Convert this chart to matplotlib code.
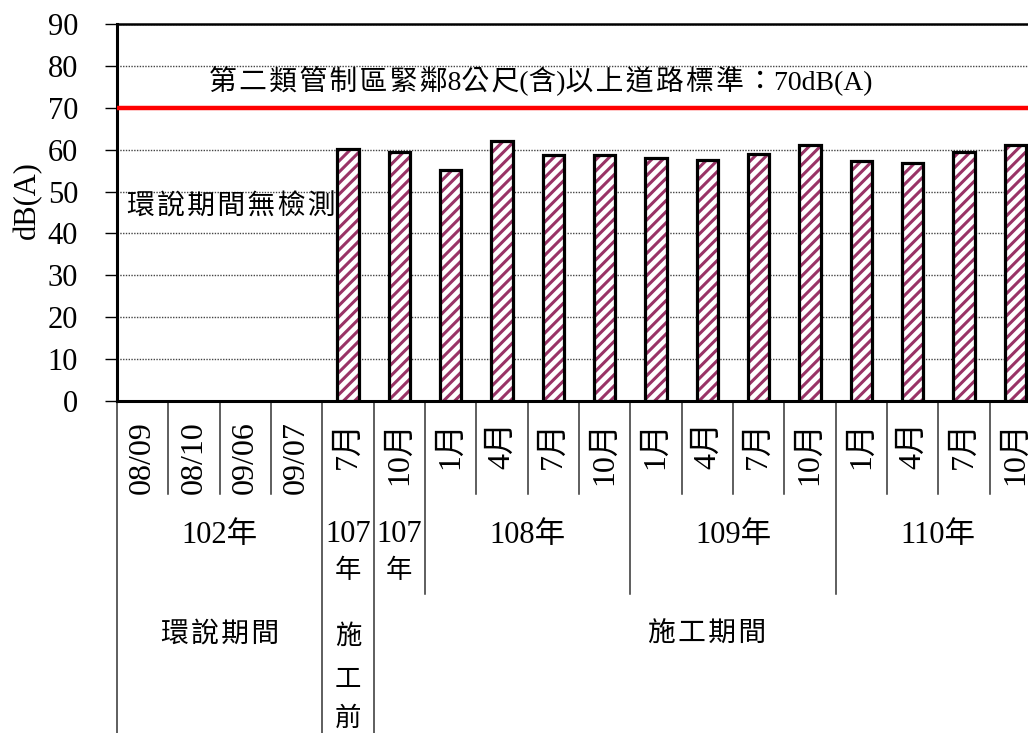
import numpy as np
import matplotlib
matplotlib.use("Agg")
import matplotlib.pyplot as plt
import matplotlib.transforms as mtransforms

plt.rcParams['font.family'] = ['Liberation Serif', 'Noto Sans CJK TC', 'DejaVu Sans']
plt.rcParams['hatch.linewidth'] = 2.2

# one column per survey
MONTHS = ["08/09", "08/10", "09/06", "09/07", "7月", "10月",
          "1月", "4月", "7月", "10月",
          "1月", "4月", "7月", "10月",
          "1月", "4月", "7月", "10月"]
VALUES = [np.nan, np.nan, np.nan, np.nan, 60.1, 59.4,
          55.1, 62.1, 58.8, 58.8,
          58.0, 57.6, 59.0, 61.2,
          57.4, 56.8, 59.5, 61.1]

# year row: (label, first column, last column)
YEARS = [("102年", 0, 3), ("107\n年", 4, 4), ("107\n年", 5, 5),
         ("108年", 6, 9), ("109年", 10, 13), ("110年", 14, 17)]
# period row
PERIODS = [("環說期間", 0, 3), ("施\n工\n前", 4, 4), ("施工期間", 5, 17)]

STANDARD = 70
STD_LABEL = "第二類管制區緊鄰8公尺(含)以上道路標準：70dB(A)"
NO_DATA_LABEL = "環說期間無檢測"

HATCH_COL = "#993366"


def spaced(s):
    # small gap between CJK characters, like the original
    out = ""
    for i, ch in enumerate(s):
        out += ch
        if i + 1 < len(s) and ord(ch) > 0x2e80 and ord(s[i + 1]) > 0x2e80:
            out += "\u200a"
    return out


fig = plt.figure(figsize=(10.28, 7.33), dpi=100)
ax = fig.add_axes([117 / 1028, 1 - 401 / 733, 924 / 1028, 377 / 733])

x = np.arange(len(MONTHS))
vals = np.array(VALUES, dtype=float)
has = ~np.isnan(vals)

# hatch first, then black outline on top
ax.bar(x[has], vals[has], width=0.42, color="white", hatch="///",
       edgecolor=HATCH_COL, linewidth=0, zorder=3)
ax.bar(x[has], vals[has], width=0.42, color="none",
       edgecolor="black", linewidth=2.3, zorder=4)

ax.axhline(STANDARD, color="red", lw=3.2, zorder=5)

ax.set_xlim(-0.5, len(MONTHS) - 0.5)
ax.set_ylim(0, 90)
ax.set_yticks(np.arange(0, 91, 10))
ax.set_xticks([])
ax.tick_params(axis="y", labelsize=22, length=9, width=1, pad=19)
ax.yaxis.grid(True, linestyle=(0, (1, 1)), color="#444444", lw=1, zorder=1)
ax.set_axisbelow(True)

for side in ["left", "bottom"]:
    ax.spines[side].set_linewidth(2.2)
ax.spines["top"].set_linewidth(1.8)
ax.spines["right"].set_visible(False)

ax.text(7.75, 76.7, spaced(STD_LABEL), ha="center", va="center", fontsize=20)
ax.text(1.72, 46.2, spaced(NO_DATA_LABEL), ha="center", va="center",
        fontsize=20)

fig.text(27 / 1028, 1 - 200 / 733, "dB(A)", rotation=90,
         ha="center", va="center", fontsize=22)

# table under the axis (x in data, y in axes fraction)
trans = mtransforms.blended_transform_factory(ax.transData, ax.transAxes)


def yf(px):
    return (401 - px) / 377


row1, row2, row3 = yf(494), yf(594), yf(740)
full = {-0.5, 3.5, 4.5}
mid = {5.5, 9.5, 13.5}
for b in np.arange(-0.5, len(MONTHS), 1.0):
    bottom = row3 if b in full else (row2 if b in mid else row1)
    ax.plot([b, b], [0, bottom], transform=trans, color="#333333",
            lw=1.1, clip_on=False)

for i, m in enumerate(MONTHS):
    ax.text(i, yf(421), m, transform=trans, rotation=90, ha="center",
            va="top", fontsize=23)

for lab, a, b in YEARS:
    xc = (a + b) / 2
    if "\n" in lab:
        top, bot = lab.split("\n")
        ax.text(xc, yf(534), top, transform=trans, ha="center", va="center",
                fontsize=22)
        ax.text(xc, yf(571), bot, transform=trans, ha="center", va="center",
                fontsize=19)
    else:
        ax.text(xc, yf(535), lab, transform=trans, ha="center", va="center",
                fontsize=22)

for lab, a, b in PERIODS:
    xc = (a + b) / 2 if a != 5 else 11
    if "\n" in lab:
        for ch, py in zip(lab.split("\n"), [637, 681, 719]):
            ax.text(xc, yf(py), ch, transform=trans, ha="center",
                    va="center", fontsize=19)
    else:
        ax.text(xc, yf(635), spaced(lab), transform=trans, ha="center",
                va="center", fontsize=20)

fig.savefig("out.png", dpi=100)
